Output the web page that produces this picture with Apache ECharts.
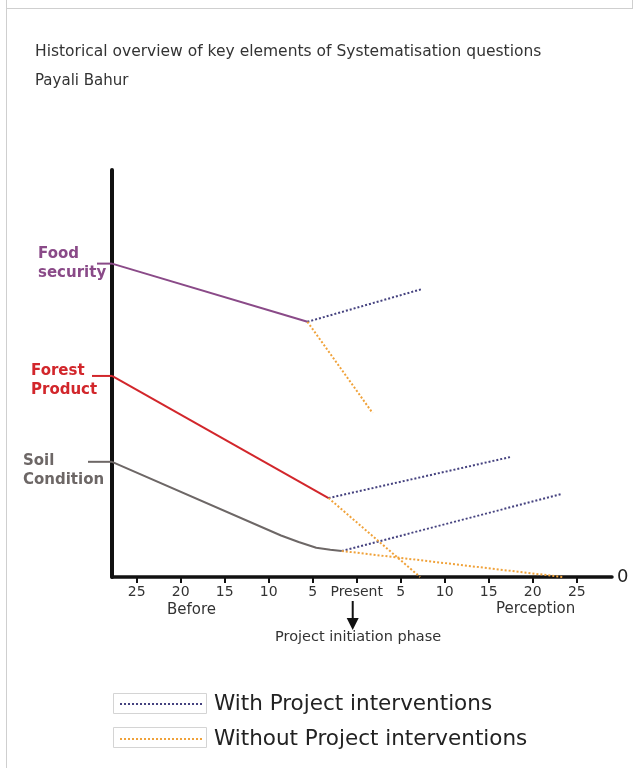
<!DOCTYPE html>
<html>
<head>
<meta charset="utf-8">
<script src="https://cdn.jsdelivr.net/npm/echarts@6/dist/echarts.min.js"></script>
<style>
html,body{margin:0;padding:0;background:#fff;}
#chart{width:635px;height:768px;}
</style>
</head>
<body>
<div id="chart"></div>
<script>
// ---- data ----
const titleText = 'Historical overview of key elements of Systematisation questions';
const subtitleText = 'Payali Bahur';
const xTicks = [-25, -20, -15, -10, -5, 0, 5, 10, 15, 20, 25];
const xTickLabels = ['25', '20', '15', '10', '5', 'Present', '5', '10', '15', '20', '25'];
const elementNames = ['Food\nsecurity', 'Forest\nProduct', 'Soil\nCondition'];
const legendNames = ['With Project interventions', 'Without Project interventions'];

const foodBefore = [[-27.8, 77], [-5.6, 62.7]];
const foodWith = [[-5.6, 62.7], [7.5, 70.8]];
const foodWithout = [[-5.6, 62.7], [1.8, 40.3]];

const forestBefore = [[-27.8, 49.4], [-3.2, 19.4]];
const forestWith = [[-3.2, 19.4], [17.5, 29.5]];
const forestWithout = [[-3.2, 19.4], [7.2, 0]];

const soilBefore = [[-27.8, 28.3], [-8.6, 10.2], [-6.6, 8.6], [-4.6, 7.2], [-3.0, 6.7], [-1.7, 6.4]];
const soilWith = [[-1.7, 6.4], [23.3, 20.4]];
const soilWithout = [[-1.7, 6.4], [23.4, 0]];

// ---- styles ----
const FONT = 'DejaVu Sans';
const colFood = '#8a4a88';
const colForest = '#d2262b';
const colSoil = '#6d6766';
const colWith = '#45427f';
const colWithout = '#f0a23a';
const dotType = [2, 2];

const chart = echarts.init(document.getElementById('chart'), null, {renderer: 'canvas'});

function solid(name, data, color) {
  return {
    name: name, type: 'line', data: data, symbol: 'none',
    lineStyle: {color: color, width: 2}, itemStyle: {color: color},
    silent: true, animation: false, z: 3
  };
}
function dotted(name, data, color) {
  return {
    name: name, type: 'line', data: data, symbol: 'none',
    lineStyle: {color: color, width: 2, type: dotType}, itemStyle: {color: color},
    silent: true, animation: false, z: 4
  };
}

const option = {
  backgroundColor: '#ffffff',
  animation: false,
  title: {
    text: titleText,
    subtext: subtitleText,
    left: 35, top: 44, padding: 0,
    itemGap: 14,
    textStyle: {fontFamily: FONT, fontSize: 15.5, fontWeight: 'normal', color: '#333'},
    subtextStyle: {fontFamily: FONT, fontSize: 15, color: '#333'}
  },
  legend: {
    data: legendNames,
    orient: 'vertical',
    left: 119, top: 693, padding: 0,
    itemWidth: 83, itemHeight: 21, itemGap: 13,
    itemStyle: {opacity: 0},
    textStyle: {fontFamily: FONT, fontSize: 21.5, color: '#222', padding: [0, 0, 0, 6]},
    selectedMode: false
  },
  grid: {left: 112, right: 23, top: 170, bottom: 191, containLabel: false, outerBoundsMode: 'none'},
  xAxis: {
    type: 'value', min: -27.8, max: 29,
    axisLine: {show: true, onZero: false, lineStyle: {color: '#111', width: 3.5}},
    axisTick: {show: true, customValues: xTicks, length: 6, inside: false, lineStyle: {color: '#111', width: 2}},
    axisLabel: {
      show: true, customValues: xTicks, margin: 8,
      fontFamily: FONT, fontSize: 14, color: '#333',
      formatter: function (v) { const i = xTicks.indexOf(Math.round(v)); return i >= 0 ? xTickLabels[i] : ''; }
    },
    splitLine: {show: false}
  },
  yAxis: {
    type: 'value', min: 0, max: 100,
    axisLine: {show: true, onZero: false, lineStyle: {color: '#111', width: 4}},
    axisTick: {show: false}, axisLabel: {show: false}, splitLine: {show: false}
  },
  series: [
    solid('Food security', foodBefore, colFood),
    solid('Forest Product', forestBefore, colForest),
    solid('Soil Condition', soilBefore, colSoil),
    dotted(legendNames[0], foodWith, colWith),
    dotted(legendNames[0], forestWith, colWith),
    dotted(legendNames[0], soilWith, colWith),
    dotted(legendNames[1], foodWithout, colWithout),
    dotted(legendNames[1], forestWithout, colWithout),
    dotted(legendNames[1], soilWithout, colWithout)
  ]
};
chart.setOption(option);

// ---- decorations positioned from the axes ----
const starts = [foodBefore[0], forestBefore[0], soilBefore[0]];
const labelColors = [colFood, colForest, colSoil];
const labelLeft = [38, 31, 23];
const labelTopOffset = [-19, -14, -10];
const tickLeft = [97, 92, 88];
const g = [];
// page frame lines
g.push({type: 'line', shape: {x1: 6.5, y1: 0, x2: 6.5, y2: 768}, style: {stroke: '#cfcfcf', lineWidth: 1}, silent: true});
g.push({type: 'line', shape: {x1: 6, y1: 8.5, x2: 632, y2: 8.5}, style: {stroke: '#cfcfcf', lineWidth: 1}, silent: true});
g.push({type: 'line', shape: {x1: 632.5, y1: 0, x2: 632.5, y2: 9}, style: {stroke: '#cfcfcf', lineWidth: 1}, silent: true});

starts.forEach(function (p, i) {
  const px = chart.convertToPixel({gridIndex: 0}, p);
  g.push({type: 'line', shape: {x1: tickLeft[i], y1: px[1], x2: px[0], y2: px[1]},
    style: {stroke: labelColors[i], lineWidth: 2}, silent: true, z: 10});
  g.push({type: 'text', left: labelLeft[i], top: px[1] + labelTopOffset[i], silent: true, z: 10,
    style: {text: elementNames[i], fill: labelColors[i], font: 'bold 15px "' + FONT + '"', lineHeight: 19}});
});

// axis annotations
const zeroPx = chart.convertToPixel({gridIndex: 0}, [0, 0]);
const axisEnd = chart.convertToPixel({gridIndex: 0}, [29, 0]);
g.push({type: 'text', left: axisEnd[0] + 5, top: axisEnd[1] - 9, silent: true,
  style: {text: '0', fill: '#222', font: '18px "' + FONT + '"'}});
g.push({type: 'text', left: 194 - 27, top: 603, silent: true,
  style: {text: 'Before', fill: '#333', font: '15px "' + FONT + '"'}});
g.push({type: 'text', left: 536 - 40, top: 602, silent: true,
  style: {text: 'Perception', fill: '#333', font: '15px "' + FONT + '"'}});
const ax = zeroPx[0] - 4;
g.push({type: 'line', shape: {x1: ax, y1: 601, x2: ax, y2: 621}, style: {stroke: '#111', lineWidth: 2}, silent: true});
g.push({type: 'polygon', shape: {points: [[ax - 6, 618], [ax + 6, 618], [ax, 630]]}, style: {fill: '#111'}, silent: true});
g.push({type: 'text', left: 360 - 85, top: 630, silent: true,
  style: {text: 'Project initiation phase', fill: '#333', font: '14.5px "' + FONT + '"'}});
// legend frames
g.push({type: 'rect', shape: {x: 113.5, y: 693.5, width: 93, height: 20}, style: {fill: 'none', stroke: '#d4d4d4', lineWidth: 1}, silent: true});
g.push({type: 'rect', shape: {x: 113.5, y: 727.5, width: 93, height: 20}, style: {fill: 'none', stroke: '#d4d4d4', lineWidth: 1}, silent: true});

chart.setOption({graphic: g});
</script>
</body>
</html>
